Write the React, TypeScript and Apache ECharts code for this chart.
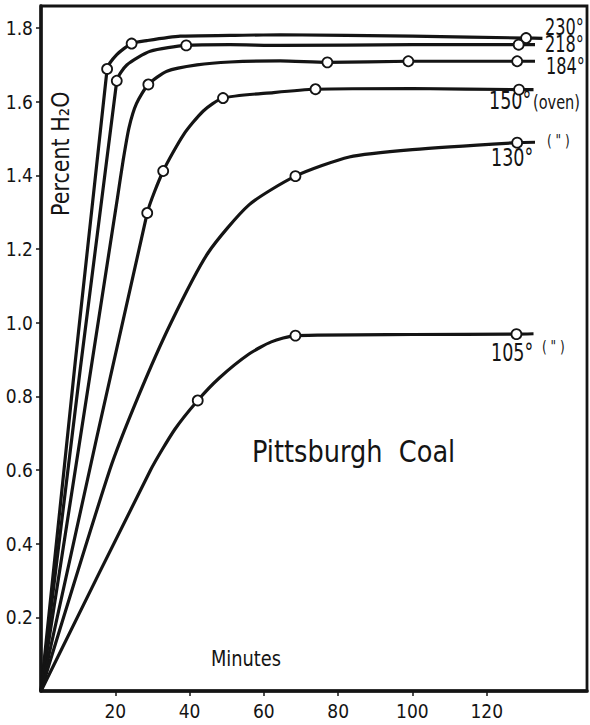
import React, { useEffect, useRef } from "react";
import * as echarts from "echarts";

const xTicks = [20, 40, 60, 80, 100, 120];
const yTicks = [0.2, 0.4, 0.6, 0.8, 1.0, 1.2, 1.4, 1.6, 1.8];

const curve230 = [[0, 0], [17.8, 1.689], [20.4, 1.728], [24.4, 1.758], [28.5, 1.766], [37.5, 1.778], [50.9, 1.78], [64.4, 1.782], [100, 1.778], [130.6, 1.773], [135, 1.772]];
const marks230 = [[17.8, 1.689], [24.4, 1.758], [130.6, 1.773]];

const curve218 = [[0, 0], [20.4, 1.657], [23.1, 1.7], [29.4, 1.737], [39.1, 1.753], [50.9, 1.755], [64.4, 1.753], [100, 1.755], [128.6, 1.755], [133, 1.755]];
const marks218 = [[20.4, 1.657], [39.1, 1.753], [128.6, 1.755]];

const curve184 = [[0, 0], [20.6, 1.34], [22.1, 1.44], [23.7, 1.53], [25.7, 1.595], [28.9, 1.647], [33.9, 1.683], [42, 1.7], [50.9, 1.708], [64.4, 1.711], [77.1, 1.707], [98.9, 1.71], [128.2, 1.71], [133, 1.71]];
const marks184 = [[28.9, 1.647], [77.1, 1.707], [98.9, 1.71], [128.2, 1.71]];

const curve150 = [[0, 0], [28.6, 1.298], [32.9, 1.412], [38.4, 1.511], [43.7, 1.575], [49, 1.61], [62.6, 1.625], [73.9, 1.634], [100, 1.636], [128.7, 1.633], [132.6, 1.633]];
const marks150 = [[28.6, 1.298], [32.9, 1.412], [49, 1.61], [73.9, 1.634], [128.7, 1.633]];

const curve130 = [[0, 0], [18.5, 0.6], [26.2, 0.8], [35, 1.0], [45, 1.19], [56, 1.32], [68.5, 1.398], [83, 1.45], [100, 1.47], [128.2, 1.489], [133, 1.49]];
const marks130 = [[68.5, 1.398], [128.2, 1.489]];

const curve105 = [[0, 0], [29.5, 0.6], [36, 0.71], [42.2, 0.789], [48, 0.85], [56, 0.915], [62, 0.948], [68.5, 0.965], [100, 0.968], [128, 0.969], [132.6, 0.97]];
const marks105 = [[42.2, 0.789], [68.5, 0.965], [128, 0.969]];

const curves = [curve230, curve218, curve184, curve150, curve130, curve105];
const marks = [marks230, marks218, marks184, marks150, marks130, marks105];
const names = ["230°", "218°", "184°", "150° (oven)", "130° (\")", "105° (\")"];

const FONT = "'DejaVu Sans Condensed', 'Liberation Sans Narrow', 'DejaVu Sans', sans-serif";
const INK = "#141414";

export default function App() {
  const ref = useRef<HTMLDivElement>(null);
  useEffect(() => {
    document.body.style.margin = "0";
    const chart = echarts.init(ref.current!, null, { renderer: "svg" });
    const series: any[] = [];
    curves.forEach((c, i) => {
      series.push({
        type: "line",
        name: names[i],
        data: c,
        showSymbol: false,
        smooth: 0.22,
        lineStyle: { color: INK, width: 3.2 },
        z: 2,
      });
    });
    marks.forEach((m, i) => {
      series.push({
        type: "scatter",
        name: names[i] + " obs",
        data: m,
        symbol: "circle",
        symbolSize: 10,
        itemStyle: { color: "#fff", borderColor: INK, borderWidth: 1.8, opacity: 1 },
        z: 5,
      });
    });
    const txt = (x: number, y: number, text: string, size: number, sx = 0.78) => ({
      type: "text",
      x,
      y,
      scaleX: sx,
      style: { text, fontSize: size, fontFamily: FONT, fill: INK, textAlign: "left", textVerticalAlign: "top" },
    });
    chart.setOption({
      animation: false,
      backgroundColor: "#fff",
      grid: { left: 41, right: 3, top: 6, bottom: 34, show: true, borderColor: INK, borderWidth: 2.8 },
      xAxis: {
        type: "value",
        min: 0,
        max: 147,
        splitLine: { show: false },
        axisLine: { onZero: false, lineStyle: { color: INK, width: 3.5 } },
        axisTick: { inside: false, length: 5, lineStyle: { color: INK, width: 1.5 }, customValues: xTicks },
        axisLabel: { customValues: xTicks, color: INK, fontSize: 19, fontFamily: FONT, margin: 10 },
      },
      yAxis: {
        type: "value",
        min: 0,
        max: 1.86,
        splitLine: { show: false },
        axisLine: { onZero: false, lineStyle: { color: INK, width: 3.5 } },
        axisTick: { inside: false, length: 5, lineStyle: { color: INK, width: 1.5 }, customValues: yTicks },
        axisLabel: {
          customValues: yTicks,
          color: INK,
          fontSize: 19,
          fontFamily: FONT,
          margin: 8,
          formatter: (v: number) => v.toFixed(1),
        },
      },
      graphic: [
        txt(545, 16, "230°", 23),
        txt(545, 33, "218°", 23),
        txt(546, 55, "184°", 23),
        txt(489, 88, "150°", 25),
        txt(533, 93, "(oven)", 19, 0.85),
        txt(547, 133, "( \" )", 15, 0.9),
        txt(491, 145, "130°", 25),
        txt(491, 340, "105°", 25),
        txt(542, 339, "( \" )", 15, 0.9),
        txt(211, 648, "Minutes", 22, 0.9),
        txt(252, 436, "Pittsburgh  Coal", 31, 0.92),
        {
          type: "text",
          x: 48,
          y: 216,
          rotation: Math.PI / 2,
          scaleX: 0.92,
          style: { text: "Percent H₂O", fontSize: 25, fontFamily: FONT, fill: INK, textAlign: "left", textVerticalAlign: "top" },
        },
      ],
      series,
    });
    return () => chart.dispose();
  }, []);
  return <div ref={ref} style={{ position: "fixed", left: 0, top: 0, width: 590, height: 725 }} />;
}
